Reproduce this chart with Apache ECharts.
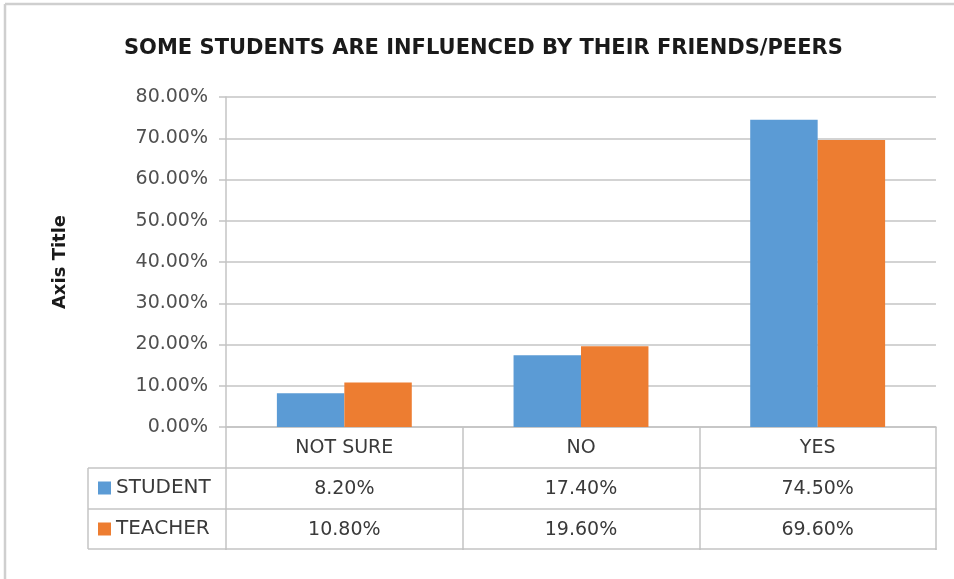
<!DOCTYPE html>
<html>
<head>
<meta charset="utf-8">
<script src="https://cdn.jsdelivr.net/npm/echarts@6/dist/echarts.min.js"></script>
<style>
	html, body { margin: 0; padding: 0; background: #fff; }
	#main { width: 954px; height: 579px; }
</style>
</head>
<body>
<div id="main"></div>
<script>
// data
const categories = ['NOT SURE', 'NO', 'YES'];
const seriesNames = ['STUDENT', 'TEACHER'];
const studentValues = [8.2, 17.4, 74.5];
const teacherValues = [10.8, 19.6, 69.6];
const yTicks = [0, 10, 20, 30, 40, 50, 60, 70, 80];

const fontFamily = 'DejaVu Sans';
const lineColor = '#c4c4c4';
const fmt = function (v) { return v.toFixed(2) + '%'; };

let myChart = echarts.init(document.getElementById('main'));

// one bottom axis per table row, stacked with offsets
function tableAxis(offset, data, showLabel) {
	return {
		type: 'category',
		data: data,
		position: 'bottom',
		offset: offset,
		axisLine: { show: true, lineStyle: { color: lineColor, width: 1.5 } },
		axisTick: { show: showLabel, length: 41, lineStyle: { color: lineColor, width: 1.5 } },
		axisLabel: {
			show: showLabel,
			margin: 12,
			fontFamily: fontFamily,
			fontSize: 19,
			color: '#3a3a3a'
		},
		splitLine: { show: false }
	};
}

let option = {
	animation: false,
	title: {
		text: 'SOME STUDENTS ARE INFLUENCED BY THEIR FRIENDS/PEERS',
		left: 124,
		top: 38,
		padding: 0,
		textStyle: {
			fontFamily: fontFamily,
			fontSize: 21,
			fontWeight: 'bold',
			color: '#1a1a1a'
		}
	},
	legend: {
		data: seriesNames,
		orient: 'vertical',
		left: 98,
		top: 478,
		padding: 0,
		itemWidth: 13,
		itemHeight: 13,
		itemGap: 21,
		icon: 'rect',
		textStyle: {
			fontFamily: fontFamily,
			fontSize: 20,
			lineHeight: 20,
			color: '#3a3a3a'
		}
	},
	grid: {
		left: 226,
		right: 18,
		top: 97,
		bottom: 152,
		containLabel: false
	},
	xAxis: [
		tableAxis(0, categories, true),
		tableAxis(41, studentValues.map(fmt), true),
		tableAxis(82, teacherValues.map(fmt), true),
		tableAxis(122, categories, false)
	],
	yAxis: {
		type: 'value',
		min: yTicks[0],
		max: yTicks[yTicks.length - 1],
		interval: 10,
		name: 'Axis Title',
		nameLocation: 'middle',
		nameGap: 157,
		nameTextStyle: {
			fontFamily: fontFamily,
			fontSize: 18,
			fontWeight: 'bold',
			color: '#1a1a1a'
		},
		axisLine: { show: true, lineStyle: { color: lineColor, width: 1.5 } },
		axisTick: { show: true, length: 7, lineStyle: { color: lineColor, width: 1.5 } },
		axisLabel: {
			margin: 18,
			fontFamily: fontFamily,
			fontSize: 19,
			color: '#505050',
			formatter: fmt
		},
		splitLine: { lineStyle: { color: lineColor, width: 1.5 } }
	},
	series: [{
		name: seriesNames[0],
		type: 'bar',
		data: studentValues,
		barGap: '0%',
		barCategoryGap: '43%',
		itemStyle: { color: '#5b9bd5' }
	}, {
		name: seriesNames[1],
		type: 'bar',
		data: teacherValues,
		barGap: '0%',
		barCategoryGap: '43%',
		itemStyle: { color: '#ed7d31' }
	}],
	graphic: [
		// outer chart frame (top and left edges visible)
		{ type: 'line', shape: { x1: 5, y1: 4, x2: 954, y2: 4 }, style: { stroke: '#cfcfcf', lineWidth: 2.5 } },
		{ type: 'line', shape: { x1: 5, y1: 4, x2: 5, y2: 579 }, style: { stroke: '#cfcfcf', lineWidth: 2.5 } },
		// legend column of the data table
		{ type: 'line', shape: { x1: 88, y1: 468, x2: 226, y2: 468 }, style: { stroke: lineColor, lineWidth: 1.5 } },
		{ type: 'line', shape: { x1: 88, y1: 509, x2: 226, y2: 509 }, style: { stroke: lineColor, lineWidth: 1.5 } },
		{ type: 'line', shape: { x1: 88, y1: 549, x2: 226, y2: 549 }, style: { stroke: lineColor, lineWidth: 1.5 } },
		{ type: 'line', shape: { x1: 88, y1: 468, x2: 88, y2: 549 }, style: { stroke: lineColor, lineWidth: 1.5 } }
	]
};

myChart.setOption(option);
</script>
</body>
</html>
